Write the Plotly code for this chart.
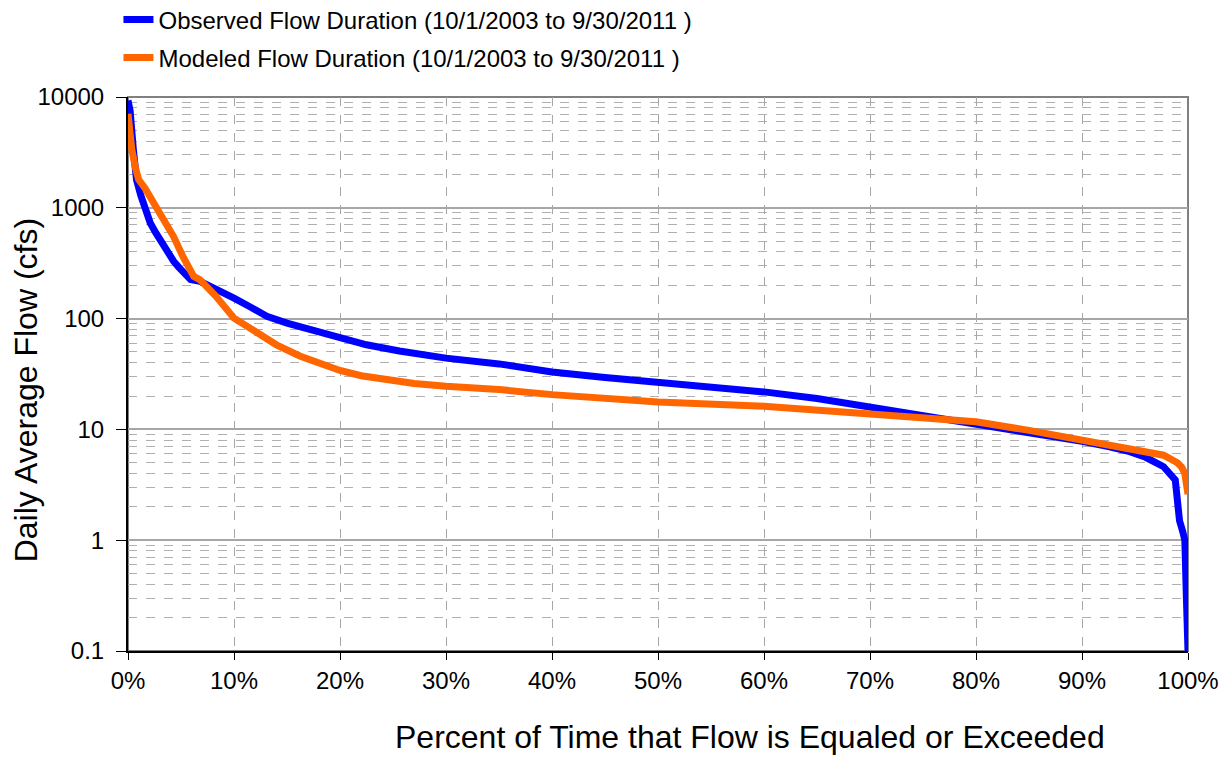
import plotly.graph_objects as go

obs_pct = [0, 0.2, 0.5, 0.8, 1.2, 1.6, 2.1, 2.6, 3.0, 3.7, 4.3, 4.8, 5.4, 5.9, 6.8, 8.4, 10,
           11.5, 13.1, 15, 17.5, 20, 22.5, 25.6, 30, 35, 40, 45, 50, 55, 60, 65, 70, 75, 80,
           85, 90, 92.5, 94.5, 96, 97.7, 98.8, 99.2, 99.5, 99.7, 99.85, 100]
obs_val = [9300, 7500, 3400, 1800, 1300, 1000, 730, 600, 520, 390, 330, 290, 250, 225, 217,
           185, 153, 128, 105, 91, 79, 68, 58, 51, 44, 39, 33, 29.4, 26.8, 24.2, 21.8, 19,
           16, 13.5, 11.2, 9.5, 7.8, 7, 6.3, 5.6, 4.6, 3.5, 1.5, 1.2, 1.0, 0.3, 0.1]

mod_pct = [0, 0.1, 0.35, 0.7, 1.0, 1.6, 2.4, 3.3, 4.3, 5.2, 6.2, 6.8, 8.3, 10, 11.9, 14,
           16.2, 18, 20, 22, 24.4, 27, 30, 35, 40, 45, 50, 60, 70, 75, 80, 85, 90, 94.5, 97.7,
           99.0, 99.4, 99.7, 99.9, 100]
mod_val = [7050, 5000, 3400, 2300, 1800, 1500, 1100, 780, 550, 360, 240, 224, 159, 101, 79,
           58, 46, 40, 34, 30.5, 27.8, 26, 24.5, 22.9, 20.6, 18.8, 17.7, 16.2, 13.7, 12.8,
           11.7, 9.8, 8, 6.7, 5.85, 5, 4.57, 4.0, 3.2, 2.6]

obs_name = "Observed Flow Duration (10/1/2003 to 9/30/2011 )"
mod_name = "Modeled Flow Duration (10/1/2003 to 9/30/2011 )"
x_title = "Percent of Time that Flow is Equaled or Exceeded"
y_title = "Daily Average Flow (cfs)"
y_tickvals = [0.1, 1, 10, 100, 1000, 10000]
y_ticktext = ["0.1", "1", "10", "100", "1000", "10000"]

FONT = "Liberation Sans, Arial, sans-serif"

fig = go.Figure()
fig.add_trace(go.Scatter(x=obs_pct, y=obs_val, mode="lines", name=obs_name,
                         legendgroup="a",
                         line=dict(color="#0000FF", width=7)))
fig.add_trace(go.Scatter(x=mod_pct, y=mod_val, mode="lines", name=mod_name,
                         legendgroup="b",
                         line=dict(color="#FF6600", width=7)))

# page body has an 8px margin, so the figure is sized to fit the window
fig.update_layout(
    width=1220, height=749,
    margin=dict(l=120, r=40, t=89, b=106, autoexpand=False),
    paper_bgcolor="white", plot_bgcolor="white",
    font=dict(family=FONT, size=24, color="black"),
    showlegend=True,
    legend=dict(x=-0.009, y=1.18, xanchor="left", yanchor="top",
                font=dict(size=24), tracegroupgap=4, bgcolor="rgba(0,0,0,0)"),
    xaxis=dict(range=[0, 100], dtick=10, ticksuffix="%", showgrid=True,
               gridcolor="#A6A6A6", griddash="dash", gridwidth=1,
               showline=True, linecolor="black", linewidth=2,
               ticks="outside", ticklen=7, tickcolor="black",
               tickfont=dict(size=24), zeroline=False, automargin=False),
    yaxis=dict(type="log", range=[-1, 4], tickvals=y_tickvals, ticktext=y_ticktext,
               showgrid=True, gridcolor="#A6A6A6", gridwidth=1.5,
               showline=True, linecolor="black", linewidth=2,
               ticks="outside", ticklen=10, tickcolor="black",
               ticklabelstandoff=7,
               tickfont=dict(size=24), zeroline=False, automargin=False,
               minor=dict(dtick="D1", showgrid=True, gridcolor="#B0B0B0",
                          griddash="dash", gridwidth=1, ticks="")),
    shapes=[dict(type="rect", xref="paper", yref="paper", x0=0, x1=1, y0=0, y1=1,
                 line=dict(color="#808080", width=2), layer="below")],
    annotations=[
        dict(text=x_title, xref="paper", yref="paper", x=0.587, y=-0.155,
             xanchor="center", yanchor="middle", showarrow=False, borderpad=0,
             font=dict(size=32)),
        dict(text=y_title, xref="paper", yref="paper", x=-0.096, y=0.471,
             xanchor="center", yanchor="middle", textangle=-90, showarrow=False,
             borderpad=0, font=dict(size=32)),
    ],
)

fig.write_html("out.html")
